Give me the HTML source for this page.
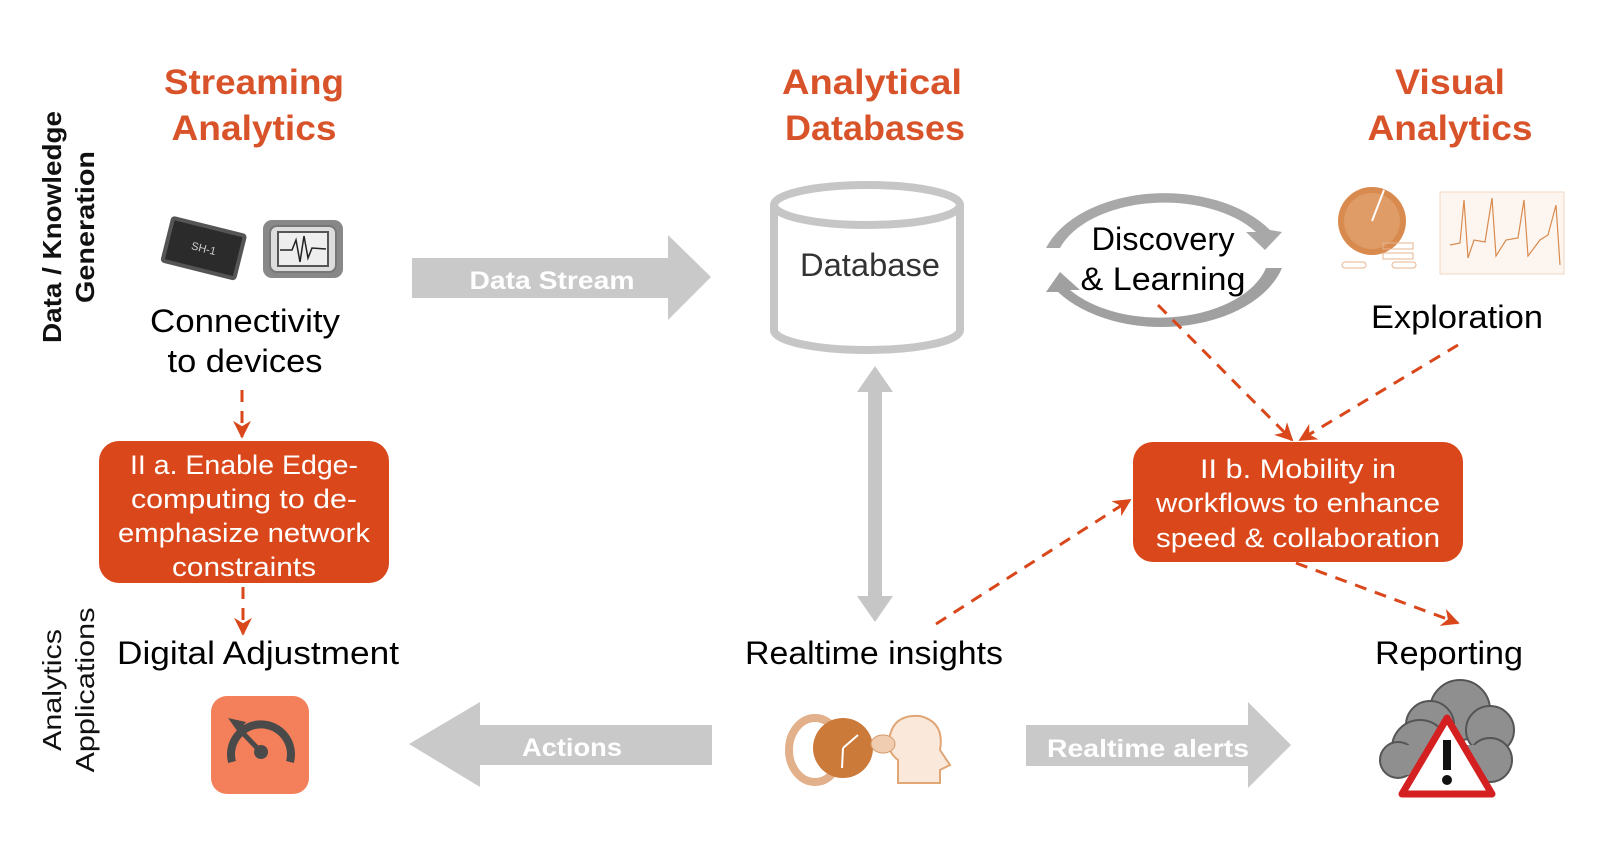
<!DOCTYPE html>
<html><head><meta charset="utf-8"><style>
html,body{margin:0;padding:0;background:#fff;}
svg{display:block;}
text{font-family:"Liberation Sans",sans-serif;}
</style></head><body>
<svg width="1600" height="846" viewBox="0 0 1600 846" xmlns="http://www.w3.org/2000/svg">
<defs>
<marker id="ah" viewBox="0 0 10 10" refX="9" refY="5" markerWidth="6" markerHeight="6" orient="auto-start-reverse">
<path d="M0,0 L10,5 L0,10 L3,5 z" fill="#d9471b"/></marker>
</defs>
<rect width="1600" height="846" fill="#fff"/>

<!-- headings -->
<g fill="#d9532a" font-weight="bold" font-size="35" text-anchor="middle">
<text x="254" y="94" textLength="180" lengthAdjust="spacingAndGlyphs">Streaming</text>
<text x="254" y="140" textLength="165" lengthAdjust="spacingAndGlyphs">Analytics</text>
<text x="872" y="94" textLength="180" lengthAdjust="spacingAndGlyphs">Analytical</text>
<text x="875" y="140" textLength="180" lengthAdjust="spacingAndGlyphs">Databases</text>
<text x="1450" y="94" textLength="110" lengthAdjust="spacingAndGlyphs">Visual</text>
<text x="1450" y="140" textLength="165" lengthAdjust="spacingAndGlyphs">Analytics</text>
</g>

<!-- vertical side labels -->
<g font-size="26" fill="#111" text-anchor="middle">
<text transform="translate(61,227) rotate(-90)" font-weight="bold" textLength="232" lengthAdjust="spacingAndGlyphs">Data / Knowledge</text>
<text transform="translate(94,227) rotate(-90)" font-weight="bold" textLength="152" lengthAdjust="spacingAndGlyphs">Generation</text>
<text transform="translate(61,690) rotate(-90)" textLength="122" lengthAdjust="spacingAndGlyphs">Analytics</text>
<text transform="translate(94,690) rotate(-90)" textLength="165" lengthAdjust="spacingAndGlyphs">Applications</text>
</g>

<!-- chip icons -->
<g transform="translate(163,222) rotate(14 40 25)">
<rect x="2" y="2" width="78" height="48" rx="4" fill="#555"/>
<rect x="6" y="6" width="70" height="40" fill="#2b2b2b"/>
<text x="41" y="30" fill="#ccc" font-size="11" text-anchor="middle">SH-1</text>
</g>
<rect x="263" y="220" width="80" height="58" rx="9" fill="#888"/>
<rect x="270" y="226" width="66" height="46" rx="7" fill="#ddd" stroke="#777" stroke-width="2"/>
<rect x="278" y="232" width="50" height="34" fill="#eee" stroke="#555" stroke-width="2"/>
<polyline points="280,250 292,250 296,240 300,262 304,236 308,258 312,248 326,249" fill="none" stroke="#222" stroke-width="1.5"/>

<g font-size="32" fill="#000" text-anchor="middle">
<text x="245" y="332" textLength="190" lengthAdjust="spacingAndGlyphs">Connectivity</text>
<text x="245" y="372" textLength="155" lengthAdjust="spacingAndGlyphs">to devices</text>
<text x="258" y="664" textLength="282" lengthAdjust="spacingAndGlyphs">Digital Adjustment</text>
<text x="874" y="664" textLength="258" lengthAdjust="spacingAndGlyphs">Realtime insights</text>
<text x="1449" y="664" textLength="148" lengthAdjust="spacingAndGlyphs">Reporting</text>
<text x="1457" y="328" textLength="172" lengthAdjust="spacingAndGlyphs">Exploration</text>
<text x="1163" y="250" textLength="143" lengthAdjust="spacingAndGlyphs">Discovery</text>
<text x="1163" y="290" textLength="165" lengthAdjust="spacingAndGlyphs">&amp; Learning</text>
</g>

<!-- Data stream arrow -->
<polygon points="412,258 668,258 668,235 711,277 668,320 668,298 412,298" fill="#c9c9c9"/>
<text x="552" y="289" fill="#fff" font-weight="bold" font-size="25" text-anchor="middle" textLength="165" lengthAdjust="spacingAndGlyphs">Data Stream</text>

<!-- Database cylinder -->
<g fill="none" stroke="#c6c6c6" stroke-width="8">
<path d="M774,205 L774,330 A93,20 0 0 0 960,330 L960,205"/>
<ellipse cx="867" cy="205" rx="93" ry="20"/>
</g>
<text x="870" y="276" font-size="32" fill="#333" text-anchor="middle" textLength="140" lengthAdjust="spacingAndGlyphs">Database</text>

<!-- double vertical arrow -->
<polygon points="875,366 893,392 882,392 882,596 893,596 875,622 857,596 868,596 868,392 857,392" fill="#c6c6c6"/>

<!-- discovery cycle -->
<path d="M1046,248 A125,80 0 0 1 1270,230 L1282,232 L1265,250 L1246,232 L1256,232 A110,66 0 0 0 1060,248 Z" fill="#a8a8a8"/>
<path d="M1282,268 A125,80 0 0 1 1058,292 L1046,292 L1060,272 L1080,290 L1070,290 A110,66 0 0 0 1266,268 Z" fill="#a0a0a0"/>

<!-- visual analytics images -->
<circle cx="1372" cy="221" r="34" fill="#d98a4f"/>
<circle cx="1372" cy="221" r="28" fill="#e09c66"/>
<line x1="1372" y1="221" x2="1384" y2="190" stroke="#fff" stroke-width="2"/>
<g fill="none" stroke="#e6b48e" stroke-width="1"><rect x="1342" y="262" width="24" height="6" rx="3"/><rect x="1392" y="262" width="24" height="6" rx="3"/><rect x="1383" y="253" width="30" height="6"/><rect x="1383" y="243" width="30" height="6"/></g>
<rect x="1440" y="192" width="124" height="82" fill="#fdf6f0" stroke="#f0d8c4"/>
<polyline points="1450,245 1460,243 1464,200 1468,258 1474,240 1485,242 1492,198 1496,256 1506,240 1518,238 1524,200 1528,256 1540,240 1548,235 1556,205 1560,265" fill="none" stroke="#d98a4f" stroke-width="1.2"/>

<!-- orange boxes -->
<rect x="99" y="441" width="290" height="142" rx="20" fill="#d9471b"/>
<g fill="#fff" font-size="27" text-anchor="middle">
<text x="244" y="474" textLength="228" lengthAdjust="spacingAndGlyphs">II a. Enable Edge-</text>
<text x="244" y="508" textLength="226" lengthAdjust="spacingAndGlyphs">computing to de-</text>
<text x="244" y="542" textLength="252" lengthAdjust="spacingAndGlyphs">emphasize network</text>
<text x="244" y="576" textLength="144" lengthAdjust="spacingAndGlyphs">constraints</text>
</g>
<rect x="1133" y="442" width="330" height="120" rx="20" fill="#d9471b"/>
<g fill="#fff" font-size="27" text-anchor="middle">
<text x="1298" y="478" textLength="196" lengthAdjust="spacingAndGlyphs">II b. Mobility in</text>
<text x="1298" y="512" textLength="284" lengthAdjust="spacingAndGlyphs">workflows to enhance</text>
<text x="1298" y="547" textLength="284" lengthAdjust="spacingAndGlyphs">speed &amp; collaboration</text>
</g>

<!-- dashed arrows -->
<g stroke="#d9471b" stroke-width="3" stroke-dasharray="12,9" fill="none" marker-end="url(#ah)">
<line x1="242" y1="390" x2="242" y2="437"/>
<line x1="243" y1="587" x2="243" y2="634"/>
<line x1="1158" y1="305" x2="1292" y2="440"/>
<line x1="1458" y1="345" x2="1300" y2="440"/>
<line x1="936" y1="624" x2="1130" y2="500"/>
<line x1="1296" y1="563" x2="1458" y2="623"/>
</g>

<!-- gauge icon -->
<rect x="211" y="696" width="98" height="98" rx="16" fill="#f3805a"/>
<path d="M232,762 A30,30 0 1 1 290,762" fill="none" stroke="#4a4a4a" stroke-width="8"/>
<circle cx="261" cy="752" r="7" fill="#4a4a4a"/>
<line x1="261" y1="752" x2="240" y2="730" stroke="#4a4a4a" stroke-width="5"/>
<polygon points="228,718 246,722 238,732" fill="#4a4a4a"/>

<!-- Actions arrow -->
<polygon points="712,725 480,725 480,702 409,744 480,787 480,765 712,765" fill="#c9c9c9"/>
<text x="572" y="756" fill="#fff" font-weight="bold" font-size="25" text-anchor="middle" textLength="100" lengthAdjust="spacingAndGlyphs">Actions</text>

<!-- realtime icon -->
<ellipse cx="815" cy="750" rx="26" ry="32" fill="none" stroke="#e2b08a" stroke-width="8"/>
<circle cx="843" cy="748" r="30" fill="#cc7a3a"/>
<line x1="843" y1="748" x2="858" y2="735" stroke="#fff" stroke-width="2"/>
<line x1="843" y1="748" x2="842" y2="768" stroke="#fff" stroke-width="2"/>
<path d="M898,783 L898,760 Q885,750 890,735 Q895,714 920,716 Q945,722 940,750 L950,765 L940,770 L940,783 Z" fill="#fae8da" stroke="#e0a676" stroke-width="2"/>
<ellipse cx="883" cy="744" rx="12" ry="9" fill="#f0cdb0" stroke="#d69a6a"/>

<!-- Realtime alerts arrow -->
<polygon points="1026,725 1248,725 1248,702 1291,745 1248,788 1248,766 1026,766" fill="#c9c9c9"/>
<text x="1148" y="757" fill="#fff" font-weight="bold" font-size="25" text-anchor="middle" textLength="202" lengthAdjust="spacingAndGlyphs">Realtime alerts</text>

<!-- cloud + warning -->
<g fill="#8f8f8f" stroke="#555" stroke-width="2">
<circle cx="1460" cy="710" r="30"/><circle cx="1490" cy="730" r="24"/><circle cx="1430" cy="725" r="24"/>
<circle cx="1420" cy="748" r="28"/><circle cx="1398" cy="760" r="18"/><circle cx="1490" cy="760" r="22"/><rect x="1398" y="745" width="100" height="30" stroke="none"/>
</g>
<polygon points="1447,718 1492,794 1402,794" fill="#fff" stroke="#d42020" stroke-width="7" stroke-linejoin="round"/>
<rect x="1443" y="740" width="8" height="30" fill="#111"/><circle cx="1447" cy="780" r="5" fill="#111"/>
</svg>
</body></html>
